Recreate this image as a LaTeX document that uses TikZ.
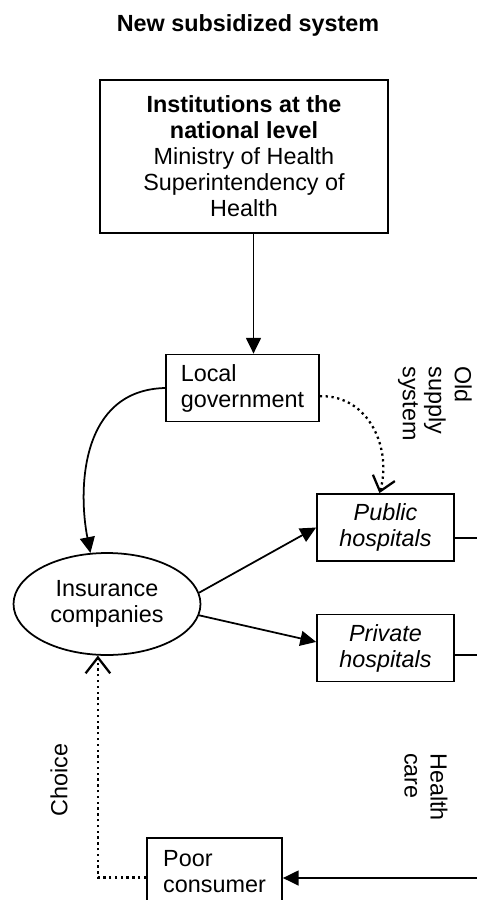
\documentclass[tikz,border=0pt]{standalone}
\usepackage{fontspec}
\setmainfont{Liberation Sans}
\usetikzlibrary{arrows.meta,shapes.geometric}

\begin{document}
\begin{tikzpicture}[x=0.02cm,y=-0.02cm,
  every node/.style={font=\fontsize{13.3pt}{14.8pt}\selectfont},
  box/.style={draw, line width=1pt, inner sep=0pt},
  arr/.style={-{Triangle[length=9pt,width=8.5pt]}, line width=1pt},
  dots/.style={dotted, line width=1.3pt, -{Straight Barb[length=8pt,width=13pt]}}]
  \clip (0,0) rectangle (477,900);

  % Title
  \node[font=\fontsize{13.3pt}{14.8pt}\selectfont\bfseries] (title) at (248,25) {New subsidized system};

  % Boxes
  \node[box, minimum width=5.76cm, minimum height=3.06cm, align=center] (inst) at (244,156.5)
    {\textbf{Institutions at the}\\ \textbf{national level}\\ Ministry of Health\\ Superintendency of\\ Health};
  \node[box, minimum width=3.06cm, minimum height=1.34cm, align=left] (lg) at (242.5,388) {Local\\ government};
  \node[box, minimum width=2.74cm, minimum height=1.34cm, align=center, font=\fontsize{13.3pt}{14.8pt}\selectfont\itshape] (pub) at (385.5,527.5) {Public\\ hospitals};
  \node[box, minimum width=2.74cm, minimum height=1.34cm, align=center, font=\fontsize{13.3pt}{14.8pt}\selectfont\itshape] (priv) at (385.5,648) {Private\\ hospitals};
  \node[box, ellipse, minimum width=3.74cm, minimum height=2.04cm, align=center] (ins) at (107,604) {Insurance\\ companies};
  \node[box, minimum width=2.7cm, minimum height=1.34cm, align=left] (poor) at (214.5,871.5) {Poor\\ consumer};

  % Rotated labels
  \node[rotate=90] (choice) at (59,780) {Choice};
  \node[rotate=-90, align=left] (old) at (435,403.5) {Old\\ supply\\ system};
  \node[rotate=-90, align=left] (care) at (426,787) {Health\\ care};

  % Connectors
  \draw[arr] (inst.-83) -- (inst.-83 |- lg.north);
  \draw[arr] (lg.west) .. controls (80,390) and (78,490) .. (ins.108);
  \draw[dots] (lg.-6) .. controls (370,395) and (392,450) .. (pub.100);
  \draw[arr] (ins.7) -- (pub.west);
  \draw[arr] (ins.-7) -- (priv.175);
  \draw[dots, -{Straight Barb[length=9pt,width=14pt]}] (poor.185) -| (ins.260);

  % Lines leaving on the right
  \coordinate (pubout) at (477,538);
  \coordinate (privout) at (477,655);
  \coordinate (carein) at (477,878);
  \draw[line width=1pt] (pubout -| pub.east) -- (pubout);
  \draw[line width=1pt] (privout -| priv.east) -- (privout);
  \draw[arr] (carein) -- (carein -| poor.east);
\end{tikzpicture}
\end{document}
